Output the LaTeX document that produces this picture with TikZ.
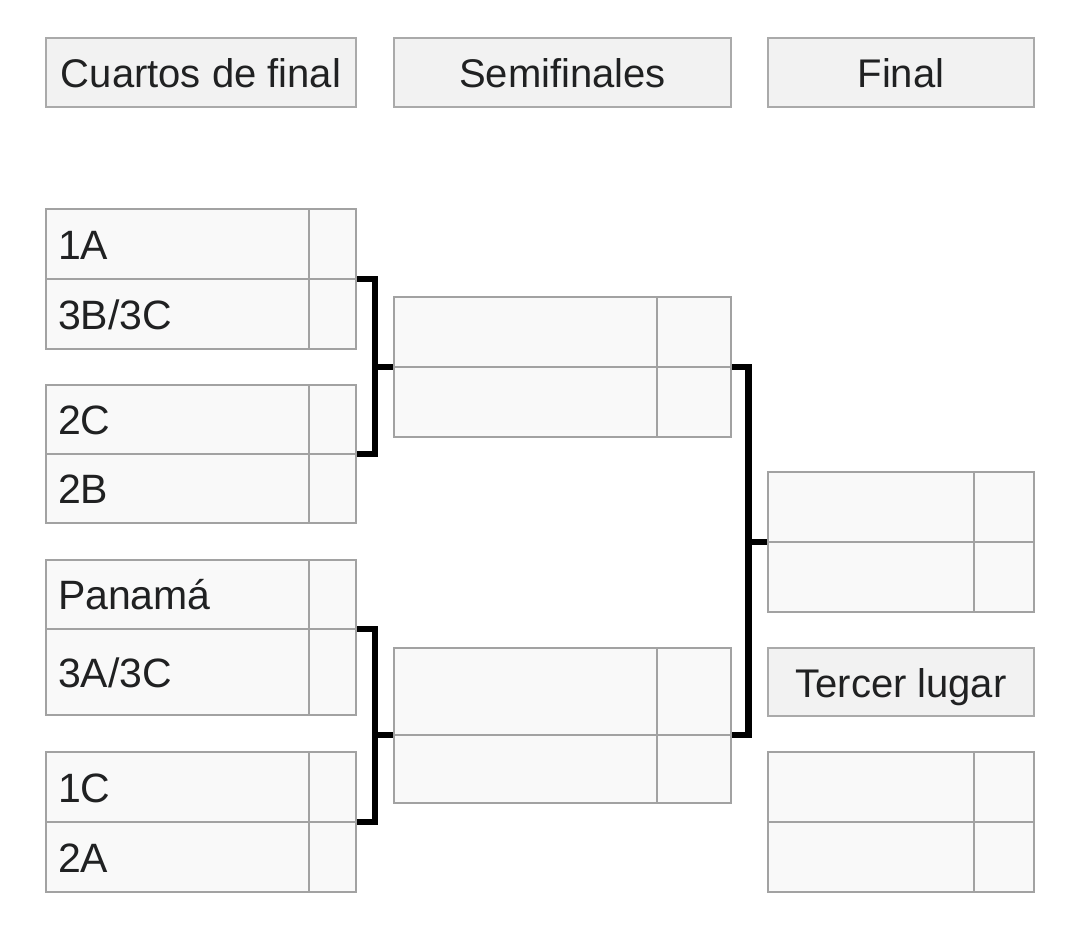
\documentclass[tikz,border=0pt]{standalone}
\usepackage{fontspec}
\setmainfont{Liberation Sans}
\usetikzlibrary{calc}
\pgfdeclarelayer{background}
\pgfsetlayers{background,main}
\definecolor{hdrfill}{HTML}{F2F2F2}
\definecolor{hdrdraw}{HTML}{AAAAAA}
\definecolor{cellfill}{HTML}{F9F9F9}
\definecolor{celldraw}{HTML}{A2A2A2}
\definecolor{txt}{HTML}{202122}
\begin{document}
\begin{tikzpicture}[x=1pt,y=-1pt,
  base/.style={inner sep=0pt, outer sep=0pt, line width=2.6pt, text height=30pt, text depth=0pt,
    font=\fontsize{41}{49}\selectfont, text=txt, anchor=north west},
  hdr/.style={base, draw=hdrdraw, fill=hdrfill, minimum height=69pt, font=\fontsize{40}{48}\selectfont},
  qname/.style={base, draw=celldraw, fill=cellfill, inner xsep=12pt, text width=239pt, align=left},
  cell/.style={base, draw=celldraw, fill=cellfill},
  conn/.style={line width=6.8pt, black}
]
\useasboundingbox (0,0) rectangle (1080,946);

% headers
\node[hdr, minimum width=310pt] (hq) at (46,38) {Cuartos de final};
\node[hdr, minimum width=337pt] (hs) at (394,38) {Semifinales};
\node[hdr, minimum width=266pt] (hf) at (768,38) {Final};
\node[hdr, minimum width=266pt, minimum height=68pt] (ht) at (768,648) {Tercer lugar};

% quarterfinals
\node[qname, minimum height=70pt] (q1n) at (46,209) {1A};
\node[cell, minimum width=47pt, minimum height=70pt] (q1s) at (q1n.north east) {};
\node[qname, minimum height=70pt] (q2n) at (46,279) {3B/3C};
\node[cell, minimum width=47pt, minimum height=70pt] (q2s) at (q2n.north east) {};
\node[qname, minimum height=69pt] (q3n) at (46,385) {2C};
\node[cell, minimum width=47pt, minimum height=69pt] (q3s) at (q3n.north east) {};
\node[qname, minimum height=69pt] (q4n) at (46,454) {2B};
\node[cell, minimum width=47pt, minimum height=69pt] (q4s) at (q4n.north east) {};
\node[qname, minimum height=69pt] (q5n) at (46,560) {Panamá};
\node[cell, minimum width=47pt, minimum height=69pt] (q5s) at (q5n.north east) {};
\node[qname, minimum height=86pt] (q6n) at (46,629) {3A/3C};
\node[cell, minimum width=47pt, minimum height=86pt] (q6s) at (q6n.north east) {};
\node[qname, minimum height=70pt] (q7n) at (46,752) {1C};
\node[cell, minimum width=47pt, minimum height=70pt] (q7s) at (q7n.north east) {};
\node[qname, minimum height=70pt] (q8n) at (46,822) {2A};
\node[cell, minimum width=47pt, minimum height=70pt] (q8s) at (q8n.north east) {};

% semifinals
\node[cell, minimum width=263pt, minimum height=70pt] (s1n) at (394,297) {};
\node[cell, minimum width=74pt, minimum height=70pt] (s1s) at (s1n.north east) {};
\node[cell, minimum width=263pt, minimum height=70pt] (s2n) at (394,367) {};
\node[cell, minimum width=74pt, minimum height=70pt] (s2s) at (s2n.north east) {};
\node[cell, minimum width=263pt, minimum height=87pt] (s3n) at (394,648) {};
\node[cell, minimum width=74pt, minimum height=87pt] (s3s) at (s3n.north east) {};
\node[cell, minimum width=263pt, minimum height=68pt] (s4n) at (394,735) {};
\node[cell, minimum width=74pt, minimum height=68pt] (s4s) at (s4n.north east) {};

% final
\node[cell, minimum width=206pt, minimum height=70pt] (f1n) at (768,472) {};
\node[cell, minimum width=60pt, minimum height=70pt] (f1s) at (f1n.north east) {};
\node[cell, minimum width=206pt, minimum height=70pt] (f2n) at (768,542) {};
\node[cell, minimum width=60pt, minimum height=70pt] (f2s) at (f2n.north east) {};

% third place
\node[cell, minimum width=206pt, minimum height=70pt] (t1n) at (768,752) {};
\node[cell, minimum width=60pt, minimum height=70pt] (t1s) at (t1n.north east) {};
\node[cell, minimum width=206pt, minimum height=70pt] (t2n) at (768,822) {};
\node[cell, minimum width=60pt, minimum height=70pt] (t2s) at (t2n.north east) {};

% connectors
\coordinate (j1) at ($(q2s.north east)!0.5!(s2n.north west)$);
\coordinate (j2) at ($(q6s.north east)!0.5!(s4n.north west)$);
\coordinate (j3) at ($(s2s.north east)!0.47!(f2n.north west)$);
\begin{pgfonlayer}{background}
\fill[white] (0,0) rectangle (1080,946);
\draw[conn] (q2s.north east) -| (j1) |- (q4s.north east);
\draw[conn] (s2n.north west) -- (s2n.north west -| j1);
\draw[conn] (q6s.north east) -| (j2) |- (q8s.north east);
\draw[conn] (s4n.north west) -- (s4n.north west -| j2);
\draw[conn] (s2s.north east) -| (j3) |- (s4s.north east);
\draw[conn] (f2n.north west) -- (f2n.north west -| j3);
\end{pgfonlayer}
\end{tikzpicture}
\end{document}
